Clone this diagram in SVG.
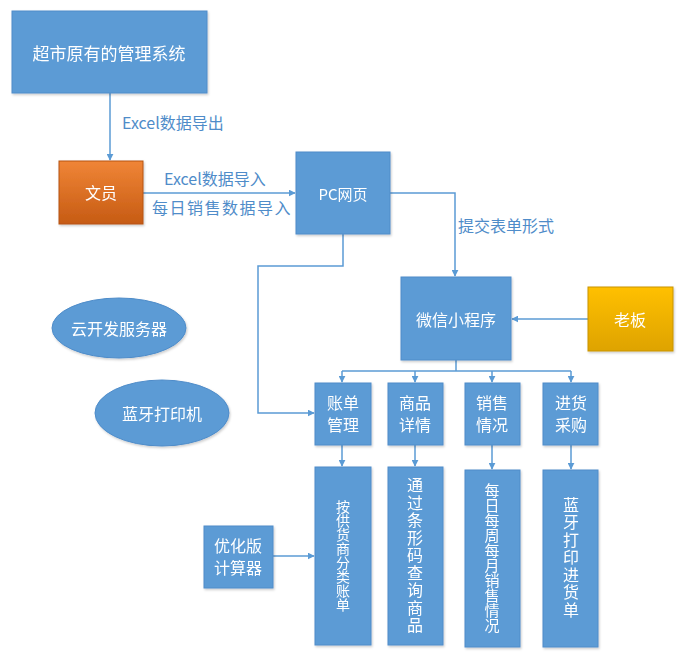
<svg xmlns="http://www.w3.org/2000/svg" width="693" height="668" viewBox="0 0 693 668">
<style>
.box{fill:#5b9bd5;stroke:#4f8cc9;stroke-width:1}
.t{font-family:"Microsoft YaHei","Noto Sans CJK SC",sans-serif;fill:#ffffff;text-anchor:middle;dominant-baseline:central}
.lbl{font-family:"Microsoft YaHei","Noto Sans CJK SC",sans-serif;fill:#4f8cc9;font-size:16px;dominant-baseline:central}
.c{fill:none;stroke:#5b9bd5;stroke-width:1.5}
</style>
<defs>
<marker id="a" viewBox="0 0 10 10" refX="9" refY="5" markerWidth="7" markerHeight="7" orient="auto" markerUnits="userSpaceOnUse"><path d="M0,0 L10,5 L0,10 z" fill="#5b9bd5"/></marker>
<linearGradient id="og" x1="0" y1="0" x2="0" y2="1"><stop offset="0" stop-color="#f08536"/><stop offset="1" stop-color="#c65b14"/></linearGradient>
<linearGradient id="yg" x1="0" y1="0" x2="0" y2="1"><stop offset="0" stop-color="#ffc000"/><stop offset="1" stop-color="#dea300"/></linearGradient>
<filter id="sh" x="-10%" y="-10%" width="130%" height="130%"><feDropShadow dx="1" dy="1.5" stdDeviation="1.2" flood-color="#000" flood-opacity="0.2"/></filter>
</defs>
<rect width="693" height="668" fill="#ffffff"/>
<g id="connectors">
<path class="c" d="M110,93 V160" marker-end="url(#a)"/>
<path class="c" d="M143,193 H295" marker-end="url(#a)"/>
<path class="c" d="M390,193 H455 V276" marker-end="url(#a)"/>
<path class="c" d="M343,234 V266 H258 V413 H314" marker-end="url(#a)"/>
<path class="c" d="M588,319 H512" marker-end="url(#a)"/>
<path class="c" d="M456,360 V371"/>
<path class="c" d="M342,371 H571"/>
<path class="c" d="M342,371 V382" marker-end="url(#a)"/>
<path class="c" d="M415,371 V382" marker-end="url(#a)"/>
<path class="c" d="M492,371 V382" marker-end="url(#a)"/>
<path class="c" d="M571,371 V382" marker-end="url(#a)"/>
<path class="c" d="M342,445 V466" marker-end="url(#a)"/>
<path class="c" d="M415,445 V466" marker-end="url(#a)"/>
<path class="c" d="M492,445 V469" marker-end="url(#a)"/>
<path class="c" d="M571,445 V469" marker-end="url(#a)"/>
<path class="c" d="M273,556 H314" marker-end="url(#a)"/>
<text class="lbl" x="122" y="122">Excel数据导出</text>
<text class="lbl" x="164" y="178">Excel数据导入</text>
<text class="lbl" x="152" y="207" letter-spacing="1.5">每日销售数据导入</text>
<text class="lbl" x="458" y="225">提交表单形式</text>
</g>
<g id="n-system" filter="url(#sh)"><rect class="box" x="12" y="11" width="195" height="82"/><text class="t" x="109" y="52" font-size="17">超市原有的管理系统</text></g>
<g id="n-clerk" filter="url(#sh)"><rect x="59" y="161" width="84" height="63" fill="url(#og)" stroke="#b65510"/><text class="t" x="101" y="192" font-size="16">文员</text></g>
<g id="n-pc" filter="url(#sh)"><rect class="box" x="296" y="152" width="94" height="82"/><text class="t" x="343" y="193" font-size="15">PC网页</text></g>
<g id="n-wechat" filter="url(#sh)"><rect class="box" x="401" y="277" width="110" height="83"/><text class="t" x="456" y="319" font-size="16">微信小程序</text></g>
<g id="n-boss" filter="url(#sh)"><rect x="588" y="287" width="85" height="64" fill="url(#yg)" stroke="#c99400"/><text class="t" x="630" y="319" font-size="16">老板</text></g>
<g id="n-cloud" filter="url(#sh)"><ellipse cx="119" cy="328" rx="67" ry="30" fill="#5b9bd5" stroke="#4f8cc9"/><text class="t" x="119" y="328" font-size="16">云开发服务器</text></g>
<g id="n-printer" filter="url(#sh)"><ellipse cx="162" cy="413" rx="67" ry="33" fill="#5b9bd5" stroke="#4f8cc9"/><text class="t" x="162" y="413" font-size="16">蓝牙打印机</text></g>
<g id="n-bill" filter="url(#sh)"><rect class="box" x="315" y="383" width="56" height="62"/><text class="t" x="343" y="402" font-size="16">账单</text><text class="t" x="343" y="424" font-size="16">管理</text></g>
<g id="n-goods" filter="url(#sh)"><rect class="box" x="388" y="383" width="55" height="62"/><text class="t" x="415" y="402" font-size="16">商品</text><text class="t" x="415" y="424" font-size="16">详情</text></g>
<g id="n-sales" filter="url(#sh)"><rect class="box" x="465" y="383" width="55" height="62"/><text class="t" x="492" y="402" font-size="16">销售</text><text class="t" x="492" y="424" font-size="16">情况</text></g>
<g id="n-purchase" filter="url(#sh)"><rect class="box" x="543" y="383" width="55" height="62"/><text class="t" x="571" y="402" font-size="16">进货</text><text class="t" x="571" y="424" font-size="16">采购</text></g>
<g id="n-bill-d" filter="url(#sh)"><rect class="box" x="315" y="467" width="56" height="178"/><text class="t" x="343" y="556" font-size="14" writing-mode="tb" style="dominant-baseline:auto">按供货商分类账单</text></g>
<g id="n-goods-d" filter="url(#sh)"><rect class="box" x="388" y="467" width="55" height="178"/><text class="t" x="415" y="556" font-size="16" letter-spacing="1.5" writing-mode="tb" style="dominant-baseline:auto">通过条形码查询商品</text></g>
<g id="n-sales-d" filter="url(#sh)"><rect class="box" x="465" y="470" width="55" height="177"/><text class="t" x="492" y="558" font-size="15" writing-mode="tb" style="dominant-baseline:auto">每日每周每月销售情况</text></g>
<g id="n-purchase-d" filter="url(#sh)"><rect class="box" x="543" y="470" width="55" height="177"/><text class="t" x="571" y="558" font-size="16" letter-spacing="1.5" writing-mode="tb" style="dominant-baseline:auto">蓝牙打印进货单</text></g>
<g id="n-calc" filter="url(#sh)"><rect class="box" x="204" y="526" width="69" height="62"/><text class="t" x="238" y="545" font-size="16">优化版</text><text class="t" x="238" y="567" font-size="16">计算器</text></g>
</svg>
